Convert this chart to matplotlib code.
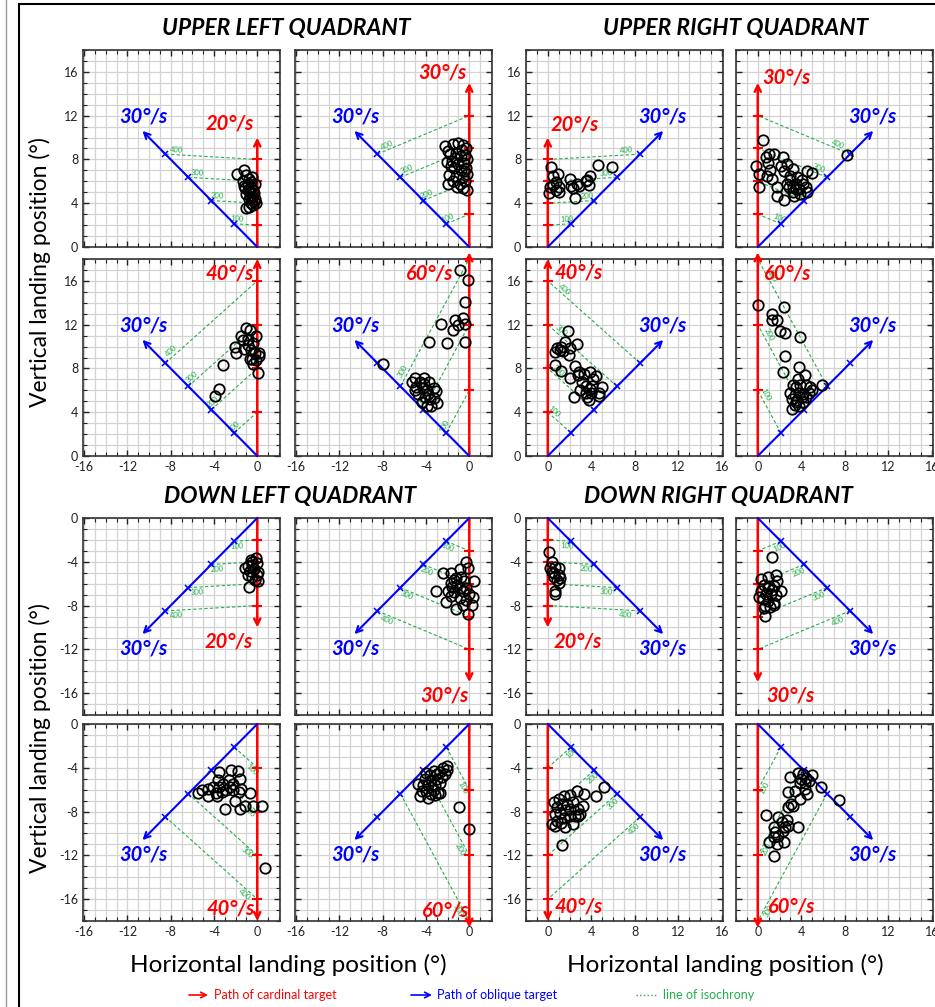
import numpy as np
import matplotlib.pyplot as plt
from matplotlib.ticker import MultipleLocator
from matplotlib.lines import Line2D

plt.rcParams['font.family'] = ['Lato', 'DejaVu Sans']
plt.rcParams['axes.unicode_minus'] = False

W, H = 935, 1007

# ---- landing positions (deg) ----
ul20_x = [-1.9, -1.2, -1.0, -0.8, -1.3, -0.9, -0.6, -1.1, -0.7, -0.4, -1.0, -0.5, -0.8, -0.3,
          -0.6, -1.0, -0.4, -0.2, -0.5, -0.9, -0.3, -0.7, -1.2, -0.6, -0.2, -0.8, -0.1]
ul20_y = [6.7, 7.0, 6.6, 6.2, 6.0, 5.8, 5.5, 5.4, 5.0, 5.2, 4.8, 4.6, 4.4, 4.2,
          4.0, 3.6, 3.8, 5.8, 6.4, 5.2, 4.9, 4.7, 5.6, 5.9, 4.4, 3.7, 4.0]

ul30_x = [-2.2, -2.0, -1.5, -1.0, -0.6, -0.3, -1.8, -1.2, -0.8, -0.4, -2.1, -1.6, -1.0, -0.5,
          -0.2, -1.4, -0.8, -0.3, -1.9, -1.2, -0.6, -0.2, -1.5, -0.9, -0.4, -2.0, -1.1, -0.6,
          -0.2, -0.7, -1.3, -0.5, -1.7]
ul30_y = [9.2, 8.8, 9.4, 9.5, 9.3, 9.0, 8.5, 8.6, 8.3, 8.4, 7.8, 7.9, 7.6, 7.7,
          8.0, 7.2, 7.0, 7.2, 6.6, 6.5, 6.4, 6.7, 6.0, 5.8, 6.0, 5.8, 5.5, 5.4,
          5.2, 8.9, 8.1, 6.9, 7.4]

ul40_x = [-3.2, -3.5, -3.9, -2.1, -2.0, -1.5, -1.0, -0.65, -1.3, -0.9, -0.4, -1.2, -0.55, -0.1,
          -0.25, -0.7, -0.35, 0.15, 0.05, -0.1, 0.2, -0.9, -0.45]
ul40_y = [8.3, 6.1, 5.5, 10.0, 9.4, 11.0, 11.7, 11.5, 10.6, 10.7, 10.3, 9.8, 9.7, 11.0,
          9.4, 8.9, 8.4, 9.1, 7.6, 8.75, 9.4, 10.1, 8.9]

ul60_x = [-8.0, -0.9, -0.15, -0.4, -2.6, -1.3, -0.6, -0.4, -1.0, -1.5, -2.1, -3.7, -0.4,
          -5.3, -5.0, -4.55, -4.2, -3.7, -4.9, -4.3, -3.9, -3.3, -4.7, -4.1, -3.6, -3.1,
          -4.4, -3.9, -3.0, -5.0, -3.5, -4.2, -3.8, -3.3]
ul60_y = [8.45, 17.0, 16.1, 14.1, 12.1, 12.4, 12.6, 12.1, 12.0, 11.5, 10.3, 10.4, 10.4,
          6.8, 7.1, 6.8, 7.1, 6.8, 6.3, 6.2, 6.0, 6.2, 5.7, 5.4, 5.2, 5.9,
          4.9, 4.6, 4.85, 6.0, 4.6, 6.6, 5.7, 5.3]

ur20_x = [0.1, 0.2, 0.3, 0.5, 0.75, 0.9, 1.0, 1.05, 0.75, 2.0, 2.1, 2.3, 2.5, 2.7,
          2.9, 3.5, 3.75, 3.9, 3.6, 4.6, 5.9, 0.5]
ur20_y = [4.9, 5.5, 7.3, 6.5, 5.9, 6.7, 5.5, 5.0, 5.2, 6.2, 5.6, 5.4, 4.5, 5.8,
          5.6, 6.0, 5.7, 6.5, 6.1, 7.5, 7.3, 5.7]

ur30_x = [0.45, -0.15, 0.15, 0.1, 0.75, 1.05, 1.45, 0.9, 1.15, 0.85, 1.35, 1.8, 1.75, 2.35,
          2.1, 2.65, 2.4, 3.2, 3.0, 2.9, 2.4, 3.2, 3.5, 3.8, 4.1, 4.5, 5.0, 4.4, 4.5,
          3.3, 3.6, 2.97, 8.2, 3.9, 4.2, 3.5, 3.2, 2.7]
ur30_y = [9.8, 7.4, 6.7, 5.5, 8.2, 8.5, 8.5, 7.7, 7.0, 6.5, 6.2, 5.5, 4.7, 8.2,
          7.4, 7.6, 6.9, 7.1, 6.1, 5.5, 4.3, 5.0, 5.8, 5.3, 6.1, 6.9, 6.8, 5.5, 5.0,
          4.7, 6.4, 6.5, 8.4, 4.8, 5.8, 5.3, 5.5, 5.8]

ur40_x = [1.9, 1.6, 1.2, 0.85, 0.7, 1.1, 1.4, 2.05, 2.7, 1.95, 0.7, 1.2, 2.05, 2.5, 2.9,
          2.8, 3.3, 3.1, 2.95, 2.4, 3.55, 3.9, 4.4, 4.15, 3.85, 3.6, 3.8, 4.0, 4.1, 4.7,
          5.0, 4.75, 3.5]
ur40_y = [11.4, 10.4, 10.0, 9.9, 9.5, 9.7, 9.6, 9.9, 10.2, 9.2, 8.3, 7.75, 7.1, 8.2, 7.7,
          7.4, 7.5, 6.8, 6.05, 5.4, 6.4, 7.7, 7.3, 7.05, 6.1, 5.4, 5.1, 5.8, 6.4, 5.8,
          6.35, 5.5, 5.8]

ur60_x = [0.0, 2.4, 1.35, 1.35, 1.8, 2.0, 2.5, 3.9, 2.5, 2.3, 3.75, 4.3, 3.7, 3.2, 3.5,
          3.9, 4.45, 4.8, 5.9, 3.0, 3.4, 3.8, 4.2, 4.7, 5.0, 3.15, 3.6, 4.05, 4.45, 3.4,
          3.15, 3.8, 3.5, 4.2]
ur60_y = [13.8, 13.6, 13.0, 12.4, 12.4, 11.4, 11.2, 10.9, 9.1, 7.7, 8.1, 7.4, 7.0, 6.5, 6.3,
          6.5, 6.5, 6.3, 6.5, 5.8, 5.6, 5.8, 5.7, 5.8, 6.0, 5.2, 5.1, 5.4, 5.4, 4.7,
          4.3, 4.6, 4.9, 4.9]

dl20_x = [-0.55, -0.15, -0.9, -0.45, 0.0, -1.15, -0.7, -0.3, 0.1, -0.9, -0.45, 0.0,
          -0.8, 0.1, -0.2, -0.5]
dl20_y = [-3.8, -3.7, -4.4, -4.3, -4.1, -4.6, -4.8, -4.7, -4.9, -5.2, -5.35, -5.2,
          -6.3, -5.8, -5.65, -4.0]

dl30_x = [-0.3, -2.45, -1.7, -0.9, -0.15, -1.4, -0.75, -1.7, -1.1, -0.45, 0.45, -3.1, -2.0,
          -1.4, -0.6, 0.0, -1.7, -0.9, -0.3, 0.3, -2.15, -1.2, -0.15, 0.25, -0.6, -1.55,
          -0.9, -0.3, -1.2]
dl30_y = [-4.0, -5.0, -5.0, -4.7, -4.6, -5.65, -5.35, -5.95, -6.1, -5.8, -5.75, -6.7, -6.65,
          -6.8, -6.65, -6.9, -7.1, -7.3, -7.5, -7.2, -7.65, -8.3, -8.8, -7.95, -7.95, -6.35,
          -6.4, -6.4, -5.5]

dl40_x = [-3.5, -2.4, -1.8, -1.6, -3.6, -3.2, -2.6, -2.25, -4.1, -4.55, -5.1, -5.5, -3.85,
          -3.3, -2.85, -2.25, -1.7, -1.5, -0.7, -4.55, -3.75, -2.1, -1.15, -1.6, -3.0,
          -0.35, 0.45, 0.75, -2.55, -3.5]
dl40_y = [-4.4, -4.2, -4.3, -5.0, -5.15, -5.5, -5.15, -5.45, -5.8, -5.9, -6.0, -6.3, -6.3,
          -6.2, -6.05, -6.05, -6.2, -5.9, -6.3, -6.6, -6.6, -7.0, -7.45, -7.75, -7.75,
          -7.45, -7.45, -13.2, -5.75, -5.75]

dl60_x = [-2.1, -2.4, -2.7, -3.0, -3.3, -3.6, -4.0, -4.1, -3.5, -3.0, -2.55, -2.25, -4.7,
          -4.3, -3.8, -3.15, -2.7, -4.4, -4.0, -3.3, -2.85, -4.55, -3.8, -3.15, -2.7,
          -0.95, 0.0, -3.5, -2.1]
dl60_y = [-3.8, -4.05, -4.4, -4.55, -4.3, -4.7, -4.5, -5.0, -5.15, -5.0, -4.85, -4.55, -5.45,
          -5.6, -5.6, -5.6, -5.35, -6.1, -6.1, -6.0, -6.3, -6.6, -6.75, -6.5, -6.35,
          -7.55, -9.6, -6.4, -4.2]

dr20_x = [0.1, 0.4, 0.25, 0.7, 1.0, 0.55, 1.0, 0.55, 0.85, 1.15, 0.7, 0.7, 1.0, 0.4]
dr20_y = [-3.15, -4.0, -4.6, -4.5, -4.6, -5.05, -5.2, -5.35, -5.65, -5.5, -6.65, -6.9, -5.95, -4.9]

dr30_x = [1.3, 1.65, 0.3, 0.9, 1.8, 0.6, 1.05, 1.5, 2.1, 0.3, 0.75, 1.25, 1.65, 0.45, 0.95,
          1.45, 0.65, 1.15, 0.55, 0.65, 1.5, 0.15, 0.9, 1.35]
dr30_y = [-3.6, -5.2, -5.55, -5.35, -5.8, -6.1, -6.25, -6.2, -6.7, -6.7, -6.9, -6.9, -7.0, -7.4,
          -7.6, -7.8, -8.0, -8.1, -8.2, -8.95, -7.95, -7.2, -6.4, -6.55]

dr40_x = [1.3, 0.55, 1.0, 1.45, 2.05, 2.7, 3.3, 4.4, 5.2, 0.85, 1.3, 1.8, 2.3, 0.7, 1.15,
          1.6, 2.05, 2.8, 3.25, 0.4, 0.85, 1.45, 2.0, 2.5, 2.95, 0.7, 1.6, 1.2, 2.3, 2.75]
dr40_y = [-11.05, -7.15, -6.85, -6.6, -6.5, -6.1, -6.4, -6.55, -5.8, -7.6, -7.3, -7.3, -7.1,
          -8.2, -8.1, -7.9, -7.8, -7.8, -7.5, -9.15, -8.85, -8.6, -8.45, -8.4, -8.2, -9.3,
          -9.45, -9.0, -9.15, -8.4]

dr60_x = [1.45, 1.0, 1.75, 2.45, 0.75, 1.45, 1.6, 1.9, 1.45, 1.9, 2.2, 2.65, 2.8, 2.5, 3.7,
          2.35, 2.75, 3.05, 3.25, 2.8, 3.4, 2.95, 3.85, 4.55, 4.3, 3.7, 4.15, 4.45, 4.95,
          4.75, 4.0, 4.3, 5.85, 7.45, 3.85]
dr60_y = [-12.05, -10.75, -10.95, -10.75, -8.3, -9.45, -9.9, -10.2, -10.35, -8.5, -8.95, -8.75,
          -9.3, -9.45, -9.45, -9.75, -7.6, -7.3, -7.5, -6.25, -6.1, -4.8, -6.85, -6.4, -5.95,
          -4.45, -4.6, -4.9, -4.7, -5.2, -5.05, -5.4, -5.8, -6.9, -5.4]

cardinal_speeds = [20, 30, 40, 60]      # deg/s
oblique_speed = 30                      # deg/s
isochrones = [100, 200, 300, 400]       # ms
cardinal_arrow_len = [10, 15, 18, 18.6]
oblique_arrow_len = 15

points = {
    ('UL', 20): (ul20_x, ul20_y), ('UL', 30): (ul30_x, ul30_y),
    ('UL', 40): (ul40_x, ul40_y), ('UL', 60): (ul60_x, ul60_y),
    ('UR', 20): (ur20_x, ur20_y), ('UR', 30): (ur30_x, ur30_y),
    ('UR', 40): (ur40_x, ur40_y), ('UR', 60): (ur60_x, ur60_y),
    ('DL', 20): (dl20_x, dl20_y), ('DL', 30): (dl30_x, dl30_y),
    ('DL', 40): (dl40_x, dl40_y), ('DL', 60): (dl60_x, dl60_y),
    ('DR', 20): (dr20_x, dr20_y), ('DR', 30): (dr30_x, dr30_y),
    ('DR', 40): (dr40_x, dr40_y), ('DR', 60): (dr60_x, dr60_y),
}

# where the red speed label sits (x anchor, y)
red_label_pos = {
    ('UL', 20): (-0.3, 11.3), ('UL', 30): (-0.3, 15.9), ('UL', 40): (-0.3, 16.7), ('UL', 60): (-1.5, 16.7),
    ('UR', 20): (0.3, 11.2), ('UR', 30): (0.45, 15.5), ('UR', 40): (0.6, 16.8), ('UR', 60): (0.55, 16.7),
    ('DL', 20): (-0.4, -11.3), ('DL', 30): (-0.1, -16.2), ('DL', 40): (-0.25, -16.9), ('DL', 60): (0.0, -17.0),
    ('DR', 20): (0.55, -11.3), ('DR', 30): (0.75, -16.2), ('DR', 40): (0.65, -16.7), ('DR', 60): (0.95, -16.7),
}
# position of the isochrony label along its line (0 = oblique path, 1 = cardinal path)
iso_label_frac = {
    ('UL', 20): 0.12, ('UL', 30): 0.12, ('UL', 40): 0.1, ('UL', 60): 0.1,
    ('UR', 20): 0.15, ('UR', 30): 0.15, ('UR', 40): 0.85, ('UR', 60): 0.85,
    ('DL', 20): 0.12, ('DL', 30): 0.12, ('DL', 40): 0.9, ('DL', 60): 0.9,
    ('DR', 20): 0.15, ('DR', 30): 0.15, ('DR', 40): 0.1, ('DR', 60): 0.9,
}

RED = '#ff0000'
BLUE = '#0000ff'
GREEN = '#22b04a'

col_px = [83, 295, 526, 736]
row_px = [50, 259, 518, 724]
SIZE = 197

fig = plt.figure(figsize=(W / 100, H / 100), dpi=100)


def draw_panel(ax, q, k):
    speed = cardinal_speeds[k]
    sx = -1 if q[1] == 'L' else 1
    sy = 1 if q[0] == 'U' else -1
    ax.set_xlim((-16.1, 2.1) if sx < 0 else (-2.0, 16.1))
    ax.set_ylim((0, 18) if sy > 0 else (-18, 0))
    ax.xaxis.set_major_locator(MultipleLocator(4))
    ax.yaxis.set_major_locator(MultipleLocator(4))
    ax.xaxis.set_minor_locator(MultipleLocator(1))
    ax.yaxis.set_minor_locator(MultipleLocator(1))
    ax.grid(which='both', color='#d3d3d3', lw=0.9)
    ax.set_axisbelow(True)
    ax.tick_params(which='both', direction='in', top=True, right=True, colors='#222222',
                   labelsize=9, labelcolor='#222222')
    ax.tick_params(which='major', length=4, width=1)
    ax.tick_params(which='minor', length=3, width=0.8)
    for sp in ax.spines.values():
        sp.set_color('#333333')
        sp.set_linewidth(1.2)

    # isochrony lines
    for t in isochrones:
        ry = sy * speed * t / 1000
        if abs(ry) > 18.5:
            continue
        d = oblique_speed * t / 1000 / np.sqrt(2)
        bx, by = sx * d, sy * d
        ax.plot([bx, 0], [by, ry], ls='--', dashes=(3, 2), color=GREEN, lw=0.8, zorder=2)
        f = iso_label_frac[(q, speed)]
        px, py = bx + f * (0 - bx), by + f * (ry - by)
        dx, dy = -bx, ry - by
        n = np.hypot(dx, dy)
        nx, ny = -dy / n, dx / n
        if nx * px + ny * py < 0:
            nx, ny = -nx, -ny
        ang = np.degrees(np.arctan2(dy, dx))
        if ang > 90:
            ang -= 180
        if ang < -90:
            ang += 180
        ax.text(px + 0.45 * nx, py + 0.45 * ny, str(t), color=GREEN, fontsize=5.5,
                rotation=ang, rotation_mode='anchor', ha='center', va='center', zorder=3)

    # cardinal target path
    L = cardinal_arrow_len[k]
    ax.annotate('', xy=(0, sy * L), xytext=(0, 0), annotation_clip=False,
                arrowprops=dict(arrowstyle='->', color=RED, lw=1.8, mutation_scale=11,
                                shrinkA=0, shrinkB=0), zorder=4)
    for t in isochrones:
        ry = sy * speed * t / 1000
        if abs(ry) <= L:
            ax.plot([-0.35, 0.35], [ry, ry], color=RED, lw=1.5, zorder=4, clip_on=False)

    # oblique target path
    d = oblique_arrow_len / np.sqrt(2)
    ax.annotate('', xy=(sx * d, sy * d), xytext=(0, 0),
                arrowprops=dict(arrowstyle='->', color=BLUE, lw=1.5, mutation_scale=11,
                                shrinkA=0, shrinkB=0), zorder=4)
    marks = np.array(isochrones) / 1000 * oblique_speed / np.sqrt(2)
    ax.plot(sx * marks, sy * marks, 'x', color=BLUE, ms=4, mew=1.1, zorder=4)

    # speed labels
    ax.text(sx * 10.5, sy * 11.9, '%d°/s' % oblique_speed, color=BLUE, fontsize=14.5,
            fontweight='bold', style='italic', ha='center', va='center', zorder=6)
    lx, ly = red_label_pos[(q, speed)]
    ax.text(lx, ly, '%d°/s' % speed, color=RED, fontsize=14.5, fontweight='bold',
            style='italic', ha='right' if sx < 0 else 'left', va='center', zorder=6)

    # landing positions
    x, y = points[(q, speed)]
    ax.plot(x, y, 'o', mfc='none', mec='black', ms=7.5, mew=1.3, zorder=5)

    ax.tick_params(labelleft=(k % 2 == 0), labelbottom=(k >= 2))


for q in ['UL', 'UR', 'DL', 'DR']:
    for k in range(4):
        row = (0 if q[0] == 'U' else 2) + k // 2
        col = (0 if q[1] == 'L' else 2) + k % 2
        x0, y0 = col_px[col], row_px[row]
        ax = fig.add_axes([x0 / W, 1 - (y0 + SIZE) / H, SIZE / W, SIZE / H])
        draw_panel(ax, q, k)

# quadrant titles
titles = [('UPPER LEFT QUADRANT', 286, 28), ('UPPER RIGHT QUADRANT', 736, 28),
          ('DOWN LEFT QUADRANT', 290, 497), ('DOWN RIGHT QUADRANT', 718, 497)]
for txt, x, y in titles:
    fig.text(x / W, 1 - y / H, txt, fontsize=16.5, fontweight='bold', style='italic',
             ha='center', va='center')

for y in [272, 738]:
    fig.text(40 / W, 1 - y / H, 'Vertical landing position (°)', fontsize=16.5, rotation=90,
             ha='center', va='center')
for x in [288, 725]:
    fig.text(x / W, 1 - 965 / H, 'Horizontal landing position (°)', fontsize=17.5,
             ha='center', va='center')

# legend
ly = 12
plt.annotate('', xy=(208, ly), xytext=(189, ly), xycoords='figure pixels',
             arrowprops=dict(arrowstyle='->', color=RED, lw=1.2, shrinkA=0, shrinkB=0))
fig.text(214 / W, ly / H, 'Path of cardinal target', color=RED, fontsize=9, va='center')
plt.annotate('', xy=(432, ly), xytext=(411, ly), xycoords='figure pixels',
             arrowprops=dict(arrowstyle='->', color=BLUE, lw=1.2, shrinkA=0, shrinkB=0))
fig.text(437 / W, ly / H, 'Path of oblique target', color=BLUE, fontsize=9, va='center')
fig.add_artist(Line2D([636 / W, 656 / W], [ly / H, ly / H], ls=':', color=GREEN, lw=1))
fig.text(663 / W, ly / H, 'line of isochrony', color=GREEN, fontsize=9, va='center')

# outer frame
fig.add_artist(Line2D([19 / W, 19 / W], [0, 1 - 4 / H], color='black', lw=1.5))
fig.add_artist(Line2D([19 / W, 1], [1 - 4 / H, 1 - 4 / H], color='black', lw=1.5))
fig.add_artist(Line2D([6 / W, 6 / W], [0, 1], color='#999999', lw=1))

fig.savefig('out.png', dpi=100)
